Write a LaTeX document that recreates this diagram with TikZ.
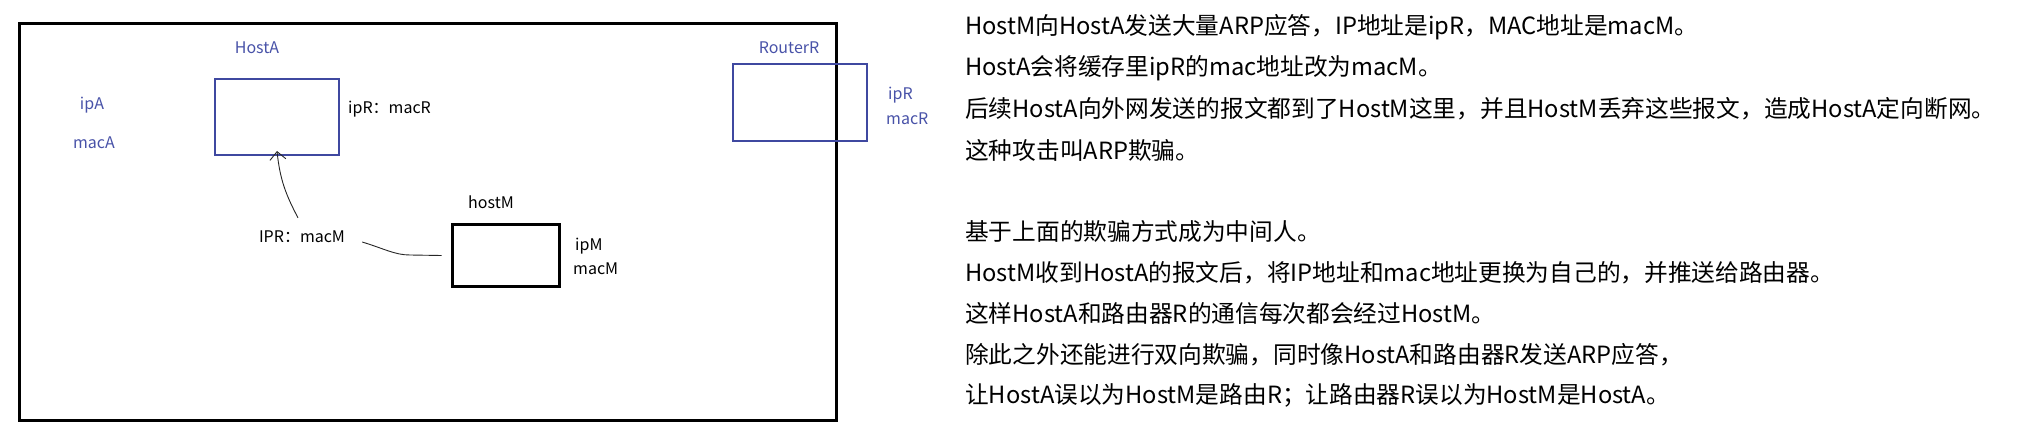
\documentclass[tikz,border=0pt]{standalone}
\usepackage{fontspec}
\newfontfamily\cjk{Noto Sans CJK SC}
\usetikzlibrary{arrows.meta}
\definecolor{lblue}{RGB}{72,82,168}
\definecolor{bblue}{RGB}{63,72,160}
\tikzset{
  lab/.style={font=\cjk\fontsize{16}{18}\selectfont, inner sep=0pt},
  bluelab/.style={lab, text=lblue},
  para/.style={font=\cjk\fontsize{23.7}{28}\selectfont, inner sep=0pt, anchor=west},
  bluebox/.style={draw=bblue, line width=2.5pt},
  blackbox/.style={draw=black, line width=3pt},
  thinline/.style={draw=black!85, line width=0.9pt}
}
\begin{document}
\begin{tikzpicture}[x=1pt,y=-1pt]
\useasboundingbox (0,0) rectangle (2020,430);
% outer frame
\draw[line width=3pt] (19,24) rectangle (836,420);
% HostA
\node[bluelab] (hostalab) at (257,48) {HostA};
\draw[bluebox] (215,79) rectangle (339,155);
\coordinate (hostabot) at (277,155);
\node[bluelab] (ipa) at (92,105) {ipA};
\node[bluelab] (maca) at (94,143) {macA};
\node[lab, anchor=west] (iprmacr) at (348,109) {ipR：macR};
% label with IPR:macM
\node[lab] (iprm) at (302,237) {IPR：macM};
% hostM
\node[lab] (hostmlab) at (491,202) {hostM};
\node[blackbox, minimum width=107pt, minimum height=61pt, inner sep=0pt] (hostm) at (505.5,255.5) {};
\node[lab, anchor=west] (ipm) at (575,246) {ipM};
\node[lab, anchor=west] (macm) at (573,269) {macM};
% RouterR
\node[bluelab] (routerlab) at (789,48) {RouterR};
\node[bluebox, minimum width=134pt, minimum height=77pt, inner sep=0pt] (router) at (800,102.5) {};
\node[bluelab, anchor=west] (iprr) at (888,95) {ipR};
\node[bluelab, anchor=west] (macrr) at (886,119) {macR};
% connectors
\draw[thinline, -{Straight Barb[length=8pt,width=16pt]}]
  ([shift={(-4,-13)}]iprm.north) .. controls (286,195) and (280,180) .. ([yshift=4pt]hostabot);
\draw[thinline] ([shift={(17,5)}]iprm.east) .. controls (385,249) and (395,255) .. (410,255) -- ([xshift=-9pt]hostm.west);
% right text
\node[para] (t1) at (965,27) {HostM向HostA发送大量ARP应答，IP地址是ipR，MAC地址是macM。};
\node[para] (t2) at (965,68) {HostA会将缓存里ipR的mac地址改为macM。};
\node[para] (t3) at (965,109) {后续HostA向外网发送的报文都到了HostM这里，并且HostM丢弃这些报文，造成HostA定向断网。};
\node[para] (t4) at (965,150) {这种攻击叫ARP欺骗。};
\node[para] (t5) at (965,232) {基于上面的欺骗方式成为中间人。};
\node[para] (t6) at (965,273) {HostM收到HostA的报文后，将IP地址和mac地址更换为自己的，并推送给路由器。};
\node[para] (t7) at (965,313) {这样HostA和路由器R的通信每次都会经过HostM。};
\node[para] (t8) at (965,355) {除此之外还能进行双向欺骗，同时像HostA和路由器R发送ARP应答，};
\node[para] (t9) at (965,395) {让HostA误以为HostM是路由R；让路由器R误以为HostM是HostA。};
\end{tikzpicture}
\end{document}
